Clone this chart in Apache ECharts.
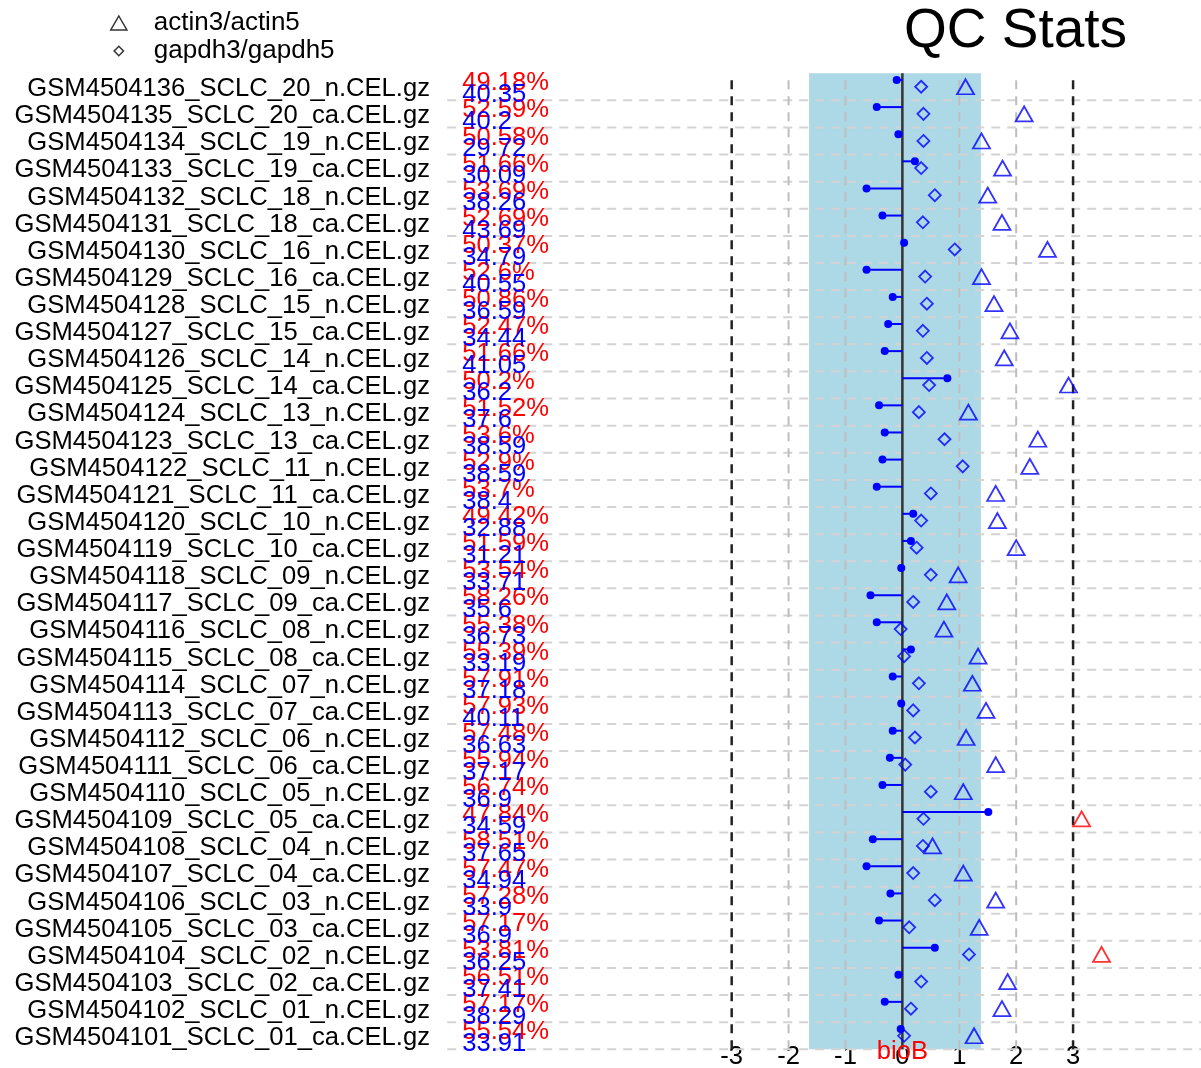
<!DOCTYPE html>
<html><head><meta charset="utf-8">
<script src="https://cdn.jsdelivr.net/npm/echarts@6/dist/echarts.min.js"></script>
<style>html,body{margin:0;padding:0;background:#fff}#c{width:1201px;height:1068px}</style>
</head><body><div id="c"></div>
<script>
// ---------- data (top row of the picture first) ----------
const sampleNames = [
 "GSM4504136_SCLC_20_n.CEL.gz","GSM4504135_SCLC_20_ca.CEL.gz","GSM4504134_SCLC_19_n.CEL.gz","GSM4504133_SCLC_19_ca.CEL.gz",
 "GSM4504132_SCLC_18_n.CEL.gz","GSM4504131_SCLC_18_ca.CEL.gz","GSM4504130_SCLC_16_n.CEL.gz","GSM4504129_SCLC_16_ca.CEL.gz",
 "GSM4504128_SCLC_15_n.CEL.gz","GSM4504127_SCLC_15_ca.CEL.gz","GSM4504126_SCLC_14_n.CEL.gz","GSM4504125_SCLC_14_ca.CEL.gz",
 "GSM4504124_SCLC_13_n.CEL.gz","GSM4504123_SCLC_13_ca.CEL.gz","GSM4504122_SCLC_11_n.CEL.gz","GSM4504121_SCLC_11_ca.CEL.gz",
 "GSM4504120_SCLC_10_n.CEL.gz","GSM4504119_SCLC_10_ca.CEL.gz","GSM4504118_SCLC_09_n.CEL.gz","GSM4504117_SCLC_09_ca.CEL.gz",
 "GSM4504116_SCLC_08_n.CEL.gz","GSM4504115_SCLC_08_ca.CEL.gz","GSM4504114_SCLC_07_n.CEL.gz","GSM4504113_SCLC_07_ca.CEL.gz",
 "GSM4504112_SCLC_06_n.CEL.gz","GSM4504111_SCLC_06_ca.CEL.gz","GSM4504110_SCLC_05_n.CEL.gz","GSM4504109_SCLC_05_ca.CEL.gz",
 "GSM4504108_SCLC_04_n.CEL.gz","GSM4504107_SCLC_04_ca.CEL.gz","GSM4504106_SCLC_03_n.CEL.gz","GSM4504105_SCLC_03_ca.CEL.gz",
 "GSM4504104_SCLC_02_n.CEL.gz","GSM4504103_SCLC_02_ca.CEL.gz","GSM4504102_SCLC_01_n.CEL.gz","GSM4504101_SCLC_01_ca.CEL.gz"
];
const percentPresent = [49.18,52.59,50.58,51.66,53.69,52.69,50.37,52.6,50.86,52.47,51.66,50.2,51.52,53.6,52.9,53.7,49.42,51.59,
 53.54,58.26,55.38,55.39,57.91,57.93,57.48,55.94,56.74,47.84,58.51,57.47,57.28,57.17,53.81,56.51,57.17,55.54];
const background = [40.35,40.2,29.72,30.09,38.26,43.69,34.79,40.55,36.59,34.44,41.05,36.2,37.6,38.59,38.59,38.4,32.88,31.21,
 33.71,35.6,36.73,33.19,37.18,40.11,36.63,37.17,36.9,34.59,37.65,34.94,33.9,36.9,36.25,37.41,38.29,33.91];
const scaleFactor = [-0.10,-0.45,-0.07,0.22,-0.63,-0.35,0.03,-0.63,-0.17,-0.25,-0.31,0.79,-0.41,-0.31,-0.35,-0.45,0.19,0.15,
 -0.02,-0.56,-0.45,0.15,-0.17,-0.02,-0.17,-0.22,-0.35,1.51,-0.52,-0.63,-0.21,-0.41,0.57,-0.07,-0.31,-0.03];
const gapdhRatio = [0.33,0.37,0.37,0.33,0.57,0.36,0.92,0.40,0.43,0.36,0.43,0.47,0.29,0.74,1.06,0.50,0.33,0.25,
 0.50,0.19,-0.03,0.03,0.29,0.19,0.22,0.05,0.50,0.37,0.36,0.19,0.57,0.12,1.17,0.33,0.15,0.03];
const actinRatio = [1.11,2.14,1.39,1.76,1.50,1.75,2.55,1.39,1.61,1.89,1.79,2.92,1.16,2.38,2.24,1.64,1.67,2.00,
 0.98,0.78,0.73,1.33,1.23,1.47,1.12,1.64,1.07,3.15,0.53,1.07,1.64,1.35,3.50,1.85,1.75,1.26];
const xTickLabels = [-3,-2,-1,0,1,2,3];
const sfOkRegion = [-1.64, 1.38];
const greyLines = [-2,-1,1,2];
const foldLines = [-3,3];
const zeroLine = [0];
const actinThresh = 3;

// ---------- layout / style ----------
const n = sampleNames.length;
const rowOf = i => n - 1 - i;
const FONT = '"Liberation Sans", Arial, sans-serif';
const FS = 25.6;
const X_MIN = -8, X_MAX = 5.25, Y_MIN = -0.7, Y_MAX = n;
const BLUE = '#0000FF', RED = '#FF0000';

function vLineSeries(vals, color, dash, width, z) {
  return {
    type: 'custom', silent: true, z: z, data: vals.map(v => [v]),
    renderItem: (p, api) => {
      const a = api.coord([api.value(0), 0]);
      const b = api.coord([api.value(0), n]);
      return { type: 'line', shape: { x1: a[0], y1: a[1], x2: b[0], y2: b[1] },
        style: { stroke: color, lineWidth: width, lineDash: dash } };
    }
  };
}

function textSeries(vals, dy, color, fmt, z) {
  return {
    type: 'custom', silent: true, z: z, data: vals.map(v => [v]),
    renderItem: (p, api) => {
      const pt = api.coord([X_MIN, rowOf(p.dataIndex) + dy]);
      return { type: 'text', x: pt[0] + 15, y: pt[1],
        style: { text: fmt(api.value(0)), fill: color, fontSize: FS, fontFamily: FONT, align: 'left', verticalAlign: 'middle' } };
    }
  };
}

const chart = echarts.init(document.getElementById('c'), null, { renderer: 'canvas' });
const option = {
  animation: false,
  backgroundColor: '#ffffff',
  title: { text: 'QC Stats', left: 904, top: 4, padding: 0,
    textStyle: { fontSize: 55, fontWeight: 'normal', color: '#000', fontFamily: FONT } },
  legend: {
    orient: 'vertical', left: 110, top: 10, padding: 0, itemGap: 2, itemWidth: 60, itemHeight: 14,
    symbolKeepAspect: true, selectedMode: false,
    textStyle: { fontSize: 26, color: '#000', fontFamily: FONT },
    data: [
      { name: 'actin3/actin5', icon: 'path://M6,0L12,10.4L0,10.4Z',
        itemStyle: { color: 'rgba(0,0,0,0)', borderColor: '#000', borderWidth: 1.5 } },
      { name: 'gapdh3/gapdh5', icon: 'path://M-3,-3M15,15M6,0L12,6L6,12L0,6Z',
        itemStyle: { color: 'rgba(0,0,0,0)', borderColor: '#000', borderWidth: 1.5 } }
    ]
  },
  grid: [
    { left: 447.2, top: 73.2, width: 753.9, height: 995.1, containLabel: false, outerBoundsMode: 'none' },
    { left: 440, top: 75.5, width: 1, height: 976.1, containLabel: false, outerBoundsMode: 'none' }
  ],
  xAxis: [
    { gridIndex: 0, type: 'value', min: X_MIN, max: X_MAX, interval: 1,
      axisLine: { show: false }, axisTick: { show: false }, splitLine: { show: false },
      axisLabel: { show: true, margin: -11, verticalAlign: 'middle', fontSize: FS, color: '#000', fontFamily: FONT,
        showMinLabel: true, showMaxLabel: true,
        formatter: v => xTickLabels.indexOf(v) >= 0 ? String(v) : '' } },
    { gridIndex: 1, type: 'value', show: false }
  ],
  yAxis: [
    { gridIndex: 0, type: 'value', min: Y_MIN, max: Y_MAX, show: false },
    { gridIndex: 1, type: 'category', data: sampleNames, inverse: true,
      axisLine: { show: false }, axisTick: { show: false }, splitLine: { show: false },
      axisLabel: { interval: 0, margin: 10, fontSize: FS, color: '#000', fontFamily: FONT } }
  ],
  series: [
    { type: 'custom', silent: true, z: 1, data: [sfOkRegion],
      renderItem: (p, api) => {
        const a = api.coord([api.value(0), 0]);
        const b = api.coord([api.value(1), n]);
        return { type: 'rect', shape: { x: a[0], y: b[1], width: b[0] - a[0], height: a[1] - b[1] },
          style: { fill: '#ADD8E6' } };
      } },
    { type: 'custom', silent: true, z: 2, data: sampleNames.map((s, i) => [rowOf(i)]),
      renderItem: (p, api) => {
        const a = api.coord([X_MIN, api.value(0)]);
        const b = api.coord([X_MAX, api.value(0)]);
        return { type: 'line', shape: { x1: a[0], y1: a[1], x2: b[0], y2: b[1] },
          style: { stroke: '#D3D3D3', lineWidth: 2, lineDash: [9, 7] } };
      } },
    vLineSeries(greyLines, '#BEBEBE', [9, 7], 2, 3),
    vLineSeries(foldLines, '#222222', [9, 7], 2.5, 3),
    vLineSeries(zeroLine, '#333333', null, 2.5, 3),
    { type: 'custom', silent: true, z: 4, data: scaleFactor.map((v, i) => [v, rowOf(i) + 0.75]),
      renderItem: (p, api) => {
        const y = api.value(1);
        const a = api.coord([0, y]);
        const b = api.coord([api.value(0), y]);
        return { type: 'group', children: [
          { type: 'line', shape: { x1: a[0], y1: a[1], x2: b[0], y2: b[1] }, style: { stroke: BLUE, lineWidth: 2 } },
          { type: 'circle', shape: { cx: b[0], cy: b[1], r: 4 }, style: { fill: BLUE } }
        ] };
      } },
    { name: 'gapdh3/gapdh5', type: 'scatter', z: 5, symbol: 'diamond', symbolSize: [12, 12],
      itemStyle: { color: 'rgba(0,0,0,0)', borderColor: BLUE, borderWidth: 1.8 },
      data: gapdhRatio.map((v, i) => [v, rowOf(i) + 0.5]) },
    { name: 'actin3/actin5', type: 'scatter', z: 5, symbol: 'triangle', symbolSize: [17, 15],
      itemStyle: { color: 'rgba(0,0,0,0)', borderColor: BLUE, borderWidth: 1.8 },
      data: actinRatio.map((v, i) => ({ value: [v, rowOf(i) + 0.5],
        itemStyle: { borderColor: v > actinThresh ? RED : BLUE } })) },
    textSeries(percentPresent, 0.63, RED, v => v + '%', 6),
    textSeries(background, 0.2, BLUE, v => String(v), 7),
    { type: 'custom', silent: true, z: 8, data: [[0]],
      renderItem: (p, api) => {
        const pt = api.coord([api.value(0), -0.1]);
        return { type: 'text', x: pt[0], y: pt[1],
          style: { text: 'bioB', fill: RED, fontSize: FS, fontFamily: FONT, align: 'center', verticalAlign: 'middle' } };
      } }
  ]
};
chart.setOption(option);
</script>
</body></html>
